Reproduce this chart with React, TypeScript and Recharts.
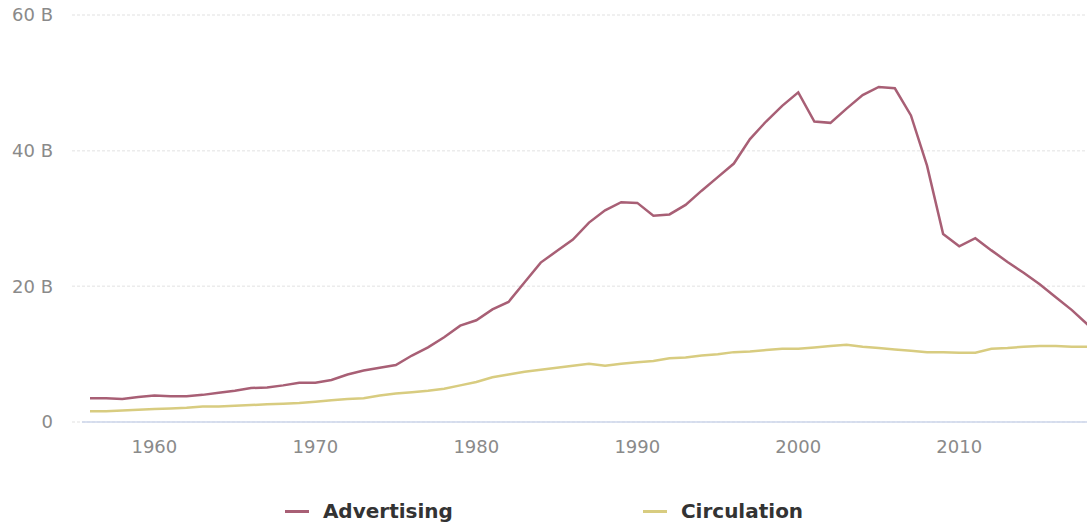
import React from "react";
import { LineChart, Line, XAxis, YAxis, CartesianGrid, Legend, ReferenceLine } from "recharts";

const years = [
  1956, 1957, 1958, 1959, 1960, 1961, 1962, 1963, 1964, 1965, 1966, 1967, 1968, 1969,
  1970, 1971, 1972, 1973, 1974, 1975, 1976, 1977, 1978, 1979, 1980, 1981, 1982, 1983,
  1984, 1985, 1986, 1987, 1988, 1989, 1990, 1991, 1992, 1993, 1994, 1995, 1996, 1997,
  1998, 1999, 2000, 2001, 2002, 2003, 2004, 2005, 2006, 2007, 2008, 2009, 2010, 2011,
  2012, 2013, 2014, 2015, 2016, 2017, 2018,
];

// billions of dollars
const advertising = [
  3.5, 3.5, 3.4, 3.7, 3.9, 3.8, 3.8, 4.0, 4.3, 4.6, 5.0, 5.1, 5.4, 5.8,
  5.8, 6.2, 7.0, 7.6, 8.0, 8.4, 9.8, 11.0, 12.5, 14.2, 15.0, 16.6, 17.7, 20.6,
  23.5, 25.2, 26.9, 29.4, 31.2, 32.4, 32.3, 30.4, 30.6, 32.0, 34.1, 36.1, 38.1, 41.7,
  44.3, 46.6, 48.6, 44.3, 44.1, 46.2, 48.2, 49.4, 49.2, 45.2, 37.8, 27.7, 25.9, 27.1,
  25.3, 23.6, 22.0, 20.3, 18.4, 16.5, 14.3,
];

const circulation = [
  1.6, 1.6, 1.7, 1.8, 1.9, 2.0, 2.1, 2.3, 2.3, 2.4, 2.5, 2.6, 2.7, 2.8,
  3.0, 3.2, 3.4, 3.5, 3.9, 4.2, 4.4, 4.6, 4.9, 5.4, 5.9, 6.6, 7.0, 7.4,
  7.7, 8.0, 8.3, 8.6, 8.3, 8.6, 8.8, 9.0, 9.4, 9.5, 9.8, 10.0, 10.3, 10.4,
  10.6, 10.8, 10.8, 11.0, 11.2, 11.4, 11.1, 10.9, 10.7, 10.5, 10.3, 10.3, 10.2, 10.2,
  10.8, 10.9, 11.1, 11.2, 11.2, 11.1, 11.1,
];

const xTicks = [1960, 1970, 1980, 1990, 2000, 2010];
const yTicks = [0, 20, 40, 60];

const seriesNames = { advertising: "Advertising", circulation: "Circulation" };
const colors = { advertising: "#a85f75", circulation: "#d8cc80" };

const data = years.map((year, i) => ({
  year,
  advertising: advertising[i],
  circulation: circulation[i],
}));

const font = "'DejaVu Sans', Verdana, sans-serif";

const renderLegend = () => (
  <div
    style={{
      height: 72,
      paddingTop: 47,
      boxSizing: "border-box",
      display: "flex",
      justifyContent: "center",
      gap: 190,
      fontFamily: font,
      fontSize: 20,
      fontWeight: "bold",
      color: "#333",
      lineHeight: "23px",
    }}
  >
    {(["advertising", "circulation"] as const).map((key) => (
      <div key={key} style={{ display: "flex", alignItems: "center" }}>
        <div style={{ width: 24, height: 3, background: colors[key], marginRight: 14 }} />
        <span>{seriesNames[key]}</span>
      </div>
    ))}
  </div>
);

export default function App() {
  return (
    <div style={{ position: "absolute", left: 0, top: 0, width: 1087, height: 524, overflow: "hidden", background: "#fff" }}>
      <LineChart width={1088} height={524} data={data} margin={{ top: 15, right: 0, left: 0, bottom: 0 }}>
        <CartesianGrid horizontal vertical={false} stroke="#ececec" strokeWidth={1.5} strokeDasharray="3 2" />
        <XAxis
          dataKey="year"
          type="number"
          domain={[1956, 2018]}
          ticks={xTicks}
          padding={{ left: 18, right: 0 }}
          height={30}
          axisLine={false}
          tickLine={false}
          tickSize={0}
          tickMargin={18}
          tick={{ fill: "#8a8a8a", fontSize: 18, fontFamily: font }}
        />
        <YAxis
          domain={[0, 60]}
          ticks={yTicks}
          width={72}
          axisLine={false}
          tickLine={false}
          tickSize={0}
          tickMargin={19}
          tickFormatter={(v: number) => (v === 0 ? "0" : `${v} B`)}
          tick={{ fill: "#8a8a8a", fontSize: 18, fontFamily: font }}
        />
        <ReferenceLine
          segment={[{ x: 1955.5, y: 0 }, { x: 2018, y: 0 }]}
          stroke="#ccd6eb"
          strokeWidth={1.5}
          ifOverflow="visible"
        />
        <Legend verticalAlign="bottom" height={72} content={renderLegend} />
        <Line
          type="linear"
          dataKey="circulation"
          name={seriesNames.circulation}
          stroke={colors.circulation}
          strokeWidth={2.5}
          dot={false}
          isAnimationActive={false}
        />
        <Line
          type="linear"
          dataKey="advertising"
          name={seriesNames.advertising}
          stroke={colors.advertising}
          strokeWidth={2.5}
          dot={false}
          isAnimationActive={false}
        />
      </LineChart>
    </div>
  );
}
